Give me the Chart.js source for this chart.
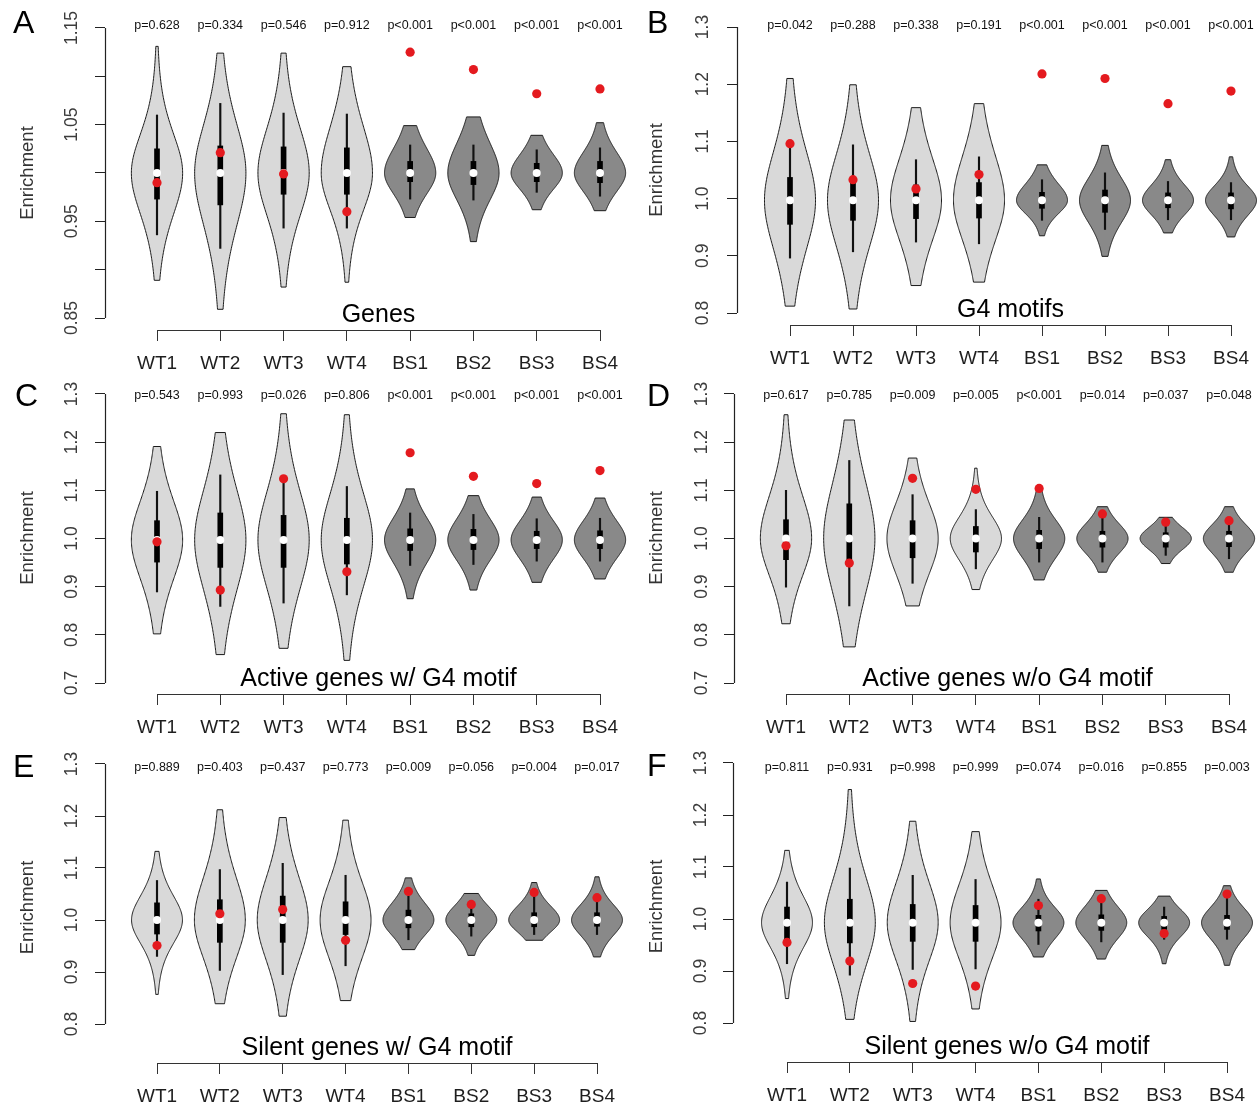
<!DOCTYPE html>
<html>
<head>
<meta charset="utf-8">
<title>Enrichment violin plots</title>
<script src="https://cdn.jsdelivr.net/npm/chart.js@4.4.1/dist/chart.umd.min.js"></script>
<style>
  html, body { margin: 0; padding: 0; background: #ffffff; }
  #wrap { position: relative; width: 1258px; height: 1107px; overflow: hidden; background: #ffffff; }
  #wrap canvas { position: absolute; }
</style>
</head>
<body>
<div id="wrap"></div>
<script>
// ---- data -------------------------------------------------------------
const groups = ['WT1', 'WT2', 'WT3', 'WT4', 'BS1', 'BS2', 'BS3', 'BS4'];
const panelLetters = ['A', 'B', 'C', 'D', 'E', 'F'];
const panelTitles = ['Genes', 'G4 motifs', 'Active genes w/ G4 motif', 'Active genes w/o G4 motif',
                     'Silent genes w/ G4 motif', 'Silent genes w/o G4 motif'];

const pValues = [
  ['p=0.628', 'p=0.334', 'p=0.546', 'p=0.912', 'p<0.001', 'p<0.001', 'p<0.001', 'p<0.001'],
  ['p=0.042', 'p=0.288', 'p=0.338', 'p=0.191', 'p<0.001', 'p<0.001', 'p<0.001', 'p<0.001'],
  ['p=0.543', 'p=0.993', 'p=0.026', 'p=0.806', 'p<0.001', 'p<0.001', 'p<0.001', 'p<0.001'],
  ['p=0.617', 'p=0.785', 'p=0.009', 'p=0.005', 'p<0.001', 'p=0.014', 'p=0.037', 'p=0.048'],
  ['p=0.889', 'p=0.403', 'p=0.437', 'p=0.773', 'p=0.009', 'p=0.056', 'p=0.004', 'p=0.017'],
  ['p=0.811', 'p=0.931', 'p=0.998', 'p=0.999', 'p=0.074', 'p=0.016', 'p=0.855', 'p=0.003']
];

// observed enrichment (red dots)
const observed = [
  [0.990, 1.021, 0.999, 0.960, 1.125, 1.107, 1.082, 1.087],
  [1.096, 1.033, 1.017, 1.042, 1.218, 1.210, 1.166, 1.188],
  [0.993, 0.893, 1.124, 0.931, 1.178, 1.129, 1.114, 1.141],
  [0.985, 0.949, 1.125, 1.102, 1.104, 1.051, 1.034, 1.037],
  [0.951, 1.012, 1.020, 0.961, 1.055, 1.030, 1.053, 1.043],
  [0.955, 0.919, 0.876, 0.871, 1.026, 1.039, 0.972, 1.048]
];

// random-set medians (white dots)
const medians = [
  [1.000, 1.000, 1.000, 1.000, 1.000, 1.000, 1.000, 1.000],
  [0.997, 0.997, 0.997, 0.997, 0.997, 0.997, 0.997, 0.997],
  [0.997, 0.997, 0.997, 0.997, 0.997, 0.997, 0.997, 0.997],
  [1.000, 1.000, 1.000, 1.000, 1.000, 1.000, 1.000, 1.000],
  [1.000, 1.000, 1.000, 1.000, 1.000, 1.000, 1.000, 1.000],
  [0.993, 0.993, 0.993, 0.993, 0.993, 0.993, 0.993, 0.993]
];

const quart1 = [
  [0.973, 0.967, 0.978, 0.978, 0.991, 0.988, 0.991, 0.990],
  [0.955, 0.962, 0.965, 0.966, 0.983, 0.976, 0.984, 0.982],
  [0.951, 0.940, 0.940, 0.947, 0.975, 0.977, 0.979, 0.979],
  [0.956, 0.951, 0.960, 0.972, 0.979, 0.982, 0.982, 0.983],
  [0.973, 0.957, 0.957, 0.972, 0.985, 0.987, 0.987, 0.988],
  [0.962, 0.954, 0.957, 0.957, 0.977, 0.978, 0.980, 0.980]
];

const quart3 = [
  [1.025, 1.028, 1.027, 1.026, 1.012, 1.012, 1.010, 1.012],
  [1.037, 1.030, 1.024, 1.028, 1.011, 1.015, 1.010, 1.010],
  [1.037, 1.053, 1.048, 1.042, 1.020, 1.019, 1.015, 1.016],
  [1.039, 1.072, 1.037, 1.025, 1.017, 1.015, 1.012, 1.015],
  [1.033, 1.039, 1.046, 1.035, 1.019, 1.012, 1.014, 1.014],
  [1.023, 1.038, 1.028, 1.026, 1.007, 1.008, 1.005, 1.007]
];

const whiskerLow = [
  [0.936, 0.922, 0.943, 0.943, 0.973, 0.972, 0.980, 0.976],
  [0.896, 0.907, 0.924, 0.921, 0.962, 0.946, 0.963, 0.963],
  [0.889, 0.859, 0.866, 0.883, 0.944, 0.946, 0.953, 0.953],
  [0.899, 0.860, 0.907, 0.937, 0.951, 0.951, 0.965, 0.958],
  [0.930, 0.903, 0.895, 0.912, 0.962, 0.969, 0.972, 0.972],
  [0.914, 0.892, 0.903, 0.904, 0.951, 0.956, 0.961, 0.961]
];

const whiskerHigh = [
  [1.060, 1.072, 1.062, 1.061, 1.029, 1.029, 1.024, 1.026],
  [1.096, 1.094, 1.068, 1.073, 1.033, 1.045, 1.030, 1.028],
  [1.098, 1.132, 1.124, 1.108, 1.053, 1.050, 1.041, 1.042],
  [1.100, 1.162, 1.091, 1.060, 1.044, 1.051, 1.034, 1.044],
  [1.076, 1.097, 1.109, 1.086, 1.046, 1.030, 1.053, 1.047],
  [1.071, 1.098, 1.084, 1.076, 1.038, 1.039, 1.023, 1.048]
];

// lowest / highest value of each random distribution (violin tips)
const violinLow = [
  [0.889, 0.859, 0.882, 0.887, 0.954, 0.929, 0.962, 0.961],
  [0.812, 0.807, 0.848, 0.854, 0.935, 0.899, 0.940, 0.933],
  [0.802, 0.759, 0.772, 0.747, 0.875, 0.893, 0.909, 0.916],
  [0.823, 0.775, 0.860, 0.894, 0.914, 0.930, 0.948, 0.930],
  [0.857, 0.839, 0.815, 0.845, 0.943, 0.932, 0.961, 0.929],
  [0.847, 0.807, 0.803, 0.827, 0.927, 0.923, 0.914, 0.911]
];

const violinHigh = [
  [1.131, 1.124, 1.124, 1.110, 1.049, 1.058, 1.039, 1.052],
  [1.210, 1.199, 1.159, 1.166, 1.059, 1.093, 1.068, 1.073],
  [1.191, 1.220, 1.259, 1.257, 1.103, 1.089, 1.086, 1.084],
  [1.257, 1.246, 1.167, 1.146, 1.100, 1.066, 1.044, 1.066],
  [1.132, 1.212, 1.197, 1.192, 1.081, 1.051, 1.072, 1.083],
  [1.132, 1.249, 1.188, 1.168, 1.077, 1.055, 1.044, 1.064]
];

// distance above / below the median where the violin is half its widest
const spreadUp = [
  [0.052, 0.065, 0.060, 0.062, 0.033, 0.040, 0.025, 0.028],
  [0.110, 0.105, 0.095, 0.100, 0.037, 0.050, 0.035, 0.033],
  [0.105, 0.135, 0.130, 0.125, 0.060, 0.057, 0.052, 0.052],
  [0.115, 0.150, 0.095, 0.058, 0.050, 0.040, 0.030, 0.038],
  [0.060, 0.105, 0.105, 0.095, 0.042, 0.036, 0.035, 0.038],
  [0.065, 0.110, 0.100, 0.095, 0.038, 0.040, 0.033, 0.038]
];
const spreadDown = [
  [0.055, 0.070, 0.057, 0.050, 0.028, 0.036, 0.022, 0.025],
  [0.110, 0.105, 0.090, 0.090, 0.030, 0.050, 0.033, 0.035],
  [0.105, 0.135, 0.130, 0.125, 0.062, 0.055, 0.052, 0.050],
  [0.100, 0.145, 0.095, 0.058, 0.052, 0.040, 0.030, 0.040],
  [0.058, 0.095, 0.100, 0.095, 0.038, 0.036, 0.030, 0.038],
  [0.062, 0.105, 0.095, 0.090, 0.040, 0.040, 0.035, 0.040]
];

// y-axis ticks and their labels
const yTickValues = [
  [0.85, 0.90, 0.95, 1.00, 1.05, 1.10, 1.15],
  [0.8, 0.9, 1.0, 1.1, 1.2, 1.3],
  [0.7, 0.8, 0.9, 1.0, 1.1, 1.2, 1.3],
  [0.7, 0.8, 0.9, 1.0, 1.1, 1.2, 1.3],
  [0.8, 0.9, 1.0, 1.1, 1.2, 1.3],
  [0.8, 0.9, 1.0, 1.1, 1.2, 1.3]
];
const yTickLabels = [
  ['0.85', '', '0.95', '', '1.05', '', '1.15'],
  ['0.8', '0.9', '1.0', '1.1', '1.2', '1.3'],
  ['0.7', '0.8', '0.9', '1.0', '1.1', '1.2', '1.3'],
  ['0.7', '0.8', '0.9', '1.0', '1.1', '1.2', '1.3'],
  ['0.8', '0.9', '1.0', '1.1', '1.2', '1.3'],
  ['0.8', '0.9', '1.0', '1.1', '1.2', '1.3']
];

// ---- look & layout ------------------------------------------------------
const FONT = '"Liberation Sans", Arial, Helvetica, sans-serif';
const groupFill = ['#d9d9d9', '#d9d9d9', '#d9d9d9', '#d9d9d9', '#898989', '#898989', '#898989', '#898989'];
const PLOT_RIGHT = 620;

// per panel: canvas box, plot edges, pixel rows of the end ticks, pixel columns of the first/last group
const panelLayout = [
  { box: [0, 0, 629, 370],     left: 105, top: 16, bottom: 330, tickPx: [28, 318], catPx: [157, 600], labelPad: 6,  pY: 26, letter: [13, 33] },
  { box: [629, 0, 629, 370],   left: 108, top: 15, bottom: 325, tickPx: [27, 313], catPx: [161, 602], labelPad: 12, pY: 26, letter: [18, 33] },
  { box: [0, 370, 629, 370],   left: 105, top: 12, bottom: 324, tickPx: [24, 313], catPx: [157, 600], labelPad: 11, pY: 26, letter: [15, 36] },
  { box: [629, 370, 629, 370], left: 105, top: 12, bottom: 324, tickPx: [24, 313], catPx: [157, 600], labelPad: 10, pY: 26, letter: [18, 36] },
  { box: [0, 740, 629, 367],   left: 105, top: 12, bottom: 323, tickPx: [24, 284], catPx: [157, 597], labelPad: 11, pY: 28, letter: [13, 37] },
  { box: [629, 740, 629, 367], left: 104, top: 11, bottom: 322, tickPx: [23, 283], catPx: [158, 598], labelPad: 10, pY: 28, letter: [18, 36] }
];

// outline of one violin: width profile peaks at the median and decays to the tips
function violinPlugin(p) {
  return {
    id: 'violins',
    beforeDatasetsDraw(chart) {
      const { ctx, scales: { x, y } } = chart;
      ctx.save();
      groups.forEach((g, i) => {
        const cx = x.getPixelForValue(i);
        const maxHalf = x.getPixelForValue(i + 0.405) - cx;
        const lo = violinLow[p][i], hi = violinHigh[p][i], m = medians[p][i];
        const steps = 160;
        const pts = [];
        for (let k = 0; k <= steps; k++) {
          const v = lo + (hi - lo) * k / steps;
          const d = v - m;
          const h = d >= 0 ? spreadUp[p][i] : spreadDown[p][i];
          const s = 1 / Math.cosh(0.8814 * Math.abs(d) / h);
          pts.push([y.getPixelForValue(v), s * s * maxHalf]);
        }
        ctx.beginPath();
        pts.forEach(([py, w], k) => (k ? ctx.lineTo(cx + w, py) : ctx.moveTo(cx + w, py)));
        for (let k = pts.length - 1; k >= 0; k--) ctx.lineTo(cx - pts[k][1], pts[k][0]);
        ctx.closePath();
        ctx.fillStyle = groupFill[i];
        ctx.fill();
        ctx.lineWidth = 1;
        ctx.strokeStyle = '#1a1a1a';
        ctx.stroke();
      });
      ctx.restore();
    }
  };
}

// axis lines spanning first..last tick, p-values, panel title and letter
function decorPlugin(p) {
  const L = panelLayout[p];
  return {
    id: 'decor',
    afterDraw(chart) {
      const { ctx, chartArea, scales: { x, y } } = chart;
      const yt = yTickValues[p];
      ctx.save();
      ctx.strokeStyle = '#222';
      ctx.lineWidth = 1.2;
      const ax = Math.round(chartArea.left) + 0.5;
      ctx.beginPath();
      ctx.moveTo(ax, y.getPixelForValue(yt[0]));
      ctx.lineTo(ax, y.getPixelForValue(yt[yt.length - 1]));
      ctx.stroke();
      const ay = Math.round(chartArea.bottom) + 0.5;
      ctx.strokeStyle = '#333';
      ctx.beginPath();
      ctx.moveTo(x.getPixelForValue(0), ay);
      ctx.lineTo(x.getPixelForValue(groups.length - 1), ay);
      ctx.stroke();

      ctx.fillStyle = '#111';
      ctx.textAlign = 'center';
      ctx.textBaseline = 'middle';
      ctx.font = '12.5px ' + FONT;
      groups.forEach((g, i) => ctx.fillText(pValues[p][i], x.getPixelForValue(i), L.pY));

      ctx.fillStyle = '#000';
      ctx.textBaseline = 'alphabetic';
      ctx.font = '25px ' + FONT;
      const mid = (x.getPixelForValue(0) + x.getPixelForValue(groups.length - 1)) / 2;
      ctx.fillText(panelTitles[p], mid, chartArea.bottom - 8);

      ctx.textAlign = 'left';
      ctx.font = '32px ' + FONT;
      ctx.fillText(panelLetters[p], L.letter[0], L.letter[1]);
      ctx.restore();
    }
  };
}

Chart.defaults.font.family = FONT;

const wrap = document.getElementById('wrap');
panelLayout.forEach((L, p) => {
  const [bx, by, W, H] = L.box;
  const canvas = document.createElement('canvas');
  canvas.width = W; canvas.height = H;
  canvas.style.left = bx + 'px'; canvas.style.top = by + 'px';
  canvas.style.width = W + 'px'; canvas.style.height = H + 'px';
  wrap.appendChild(canvas);

  const yt = yTickValues[p];
  const yFirst = yt[0], yLast = yt[yt.length - 1];
  const ppuY = (L.tickPx[1] - L.tickPx[0]) / (yLast - yFirst);
  const yMax = yLast + (L.tickPx[0] - L.top) / ppuY;
  const yMin = yFirst - (L.bottom - L.tickPx[1]) / ppuY;
  const ppuX = (L.catPx[1] - L.catPx[0]) / (groups.length - 1);
  const xMin = -(L.catPx[0] - L.left) / ppuX;
  const xMax = (groups.length - 1) + (PLOT_RIGHT - L.catPx[1]) / ppuX;

  new Chart(canvas, {
    type: 'scatter',
    data: {
      datasets: [
        { type: 'scatter', label: 'observed', order: 0,
          data: observed[p].map((v, i) => ({ x: i, y: v })),
          pointRadius: 4.6, pointBackgroundColor: '#e41a1f', pointBorderWidth: 0, pointHoverRadius: 4.6 },
        { type: 'scatter', label: 'median', order: 1,
          data: medians[p].map((v, i) => ({ x: i, y: v })),
          pointRadius: 4, pointBackgroundColor: '#ffffff', pointBorderWidth: 0, pointHoverRadius: 4 },
        { type: 'bar', label: 'IQR', order: 2, grouped: false,
          data: quart1[p].map((v, i) => ({ x: i, y: [v, quart3[p][i]] })),
          barThickness: 5, backgroundColor: '#000', borderWidth: 0 },
        { type: 'bar', label: 'whisker', order: 3, grouped: false,
          data: whiskerLow[p].map((v, i) => ({ x: i, y: [v, whiskerHigh[p][i]] })),
          barThickness: 1.5, backgroundColor: '#111', borderWidth: 0 }
      ]
    },
    options: {
      responsive: false,
      animation: false,
      devicePixelRatio: 1,
      layout: { padding: { left: 0, top: L.top, right: W - PLOT_RIGHT, bottom: 0 } },
      plugins: { legend: { display: false }, tooltip: { enabled: false }, title: { display: false } },
      scales: {
        x: {
          type: 'linear', position: 'bottom', min: xMin, max: xMax, offset: false,
          afterFit: s => { s.height = H - L.bottom; s.paddingLeft = 0; s.paddingRight = 0; },
          afterBuildTicks: s => { s.ticks = groups.map((g, i) => ({ value: i })); },
          grid: { offset: false, drawOnChartArea: false, drawTicks: true, tickLength: 11, color: '#333', lineWidth: 1 },
          border: { display: false },
          ticks: { autoSkip: false, maxRotation: 0, minRotation: 0, padding: 11, color: '#1e1e1e',
                   font: { family: FONT, size: 19 }, callback: v => groups[v] ?? '' }
        },
        y: {
          type: 'linear', position: 'left', min: yMin, max: yMax,
          afterFit: s => { s.width = L.left; s.paddingTop = 0; s.paddingBottom = 0; },
          afterBuildTicks: s => { s.ticks = yTickValues[p].map(v => ({ value: v })); },
          grid: { offset: false, drawOnChartArea: false, drawTicks: true, tickLength: 10, color: '#222', lineWidth: 1 },
          border: { display: false },
          title: { display: true, text: 'Enrichment', color: '#333',
                   font: { family: FONT, size: 18.5 }, padding: { top: 17, bottom: 0 } },
          ticks: { autoSkip: false, minRotation: 90, maxRotation: 90, crossAlign: 'center',
                   padding: L.labelPad, color: '#3c3c3c', font: { family: FONT, size: 17.5 },
                   callback: (v, i) => yTickLabels[p][i] }
        }
      }
    },
    plugins: [violinPlugin(p), decorPlugin(p)]
  });
});
</script>
</body>
</html>
